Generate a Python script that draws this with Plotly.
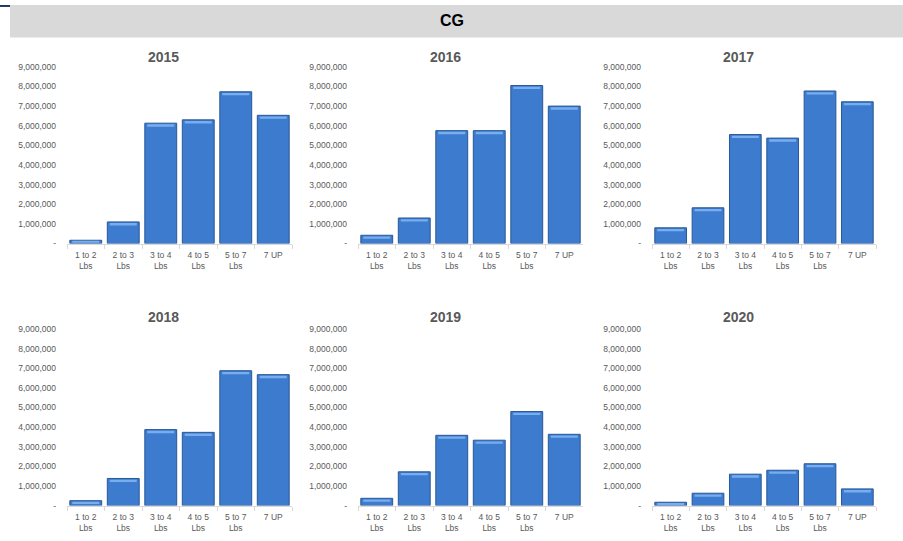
import plotly.graph_objects as go

categories = ["1 to 2<br>Lbs", "2 to 3<br>Lbs", "3 to 4<br>Lbs", "4 to 5<br>Lbs", "5 to 7<br>Lbs", "7 UP"]
years = ["2015", "2016", "2017", "2018", "2019", "2020"]
v2015 = [165000, 1100000, 6130000, 6300000, 7730000, 6530000]
v2016 = [420000, 1300000, 5750000, 5750000, 8050000, 7000000]
v2017 = [800000, 1820000, 5550000, 5370000, 7770000, 7220000]
v2018 = [250000, 1380000, 3870000, 3730000, 6870000, 6670000]
v2019 = [370000, 1720000, 3580000, 3330000, 4790000, 3630000]
v2020 = [170000, 630000, 1600000, 1800000, 2130000, 850000]
series = [v2015, v2016, v2017, v2018, v2019, v2020]
ytickvals = [0, 1000000, 2000000, 3000000, 4000000, 5000000, 6000000, 7000000, 8000000, 9000000]
yticktext = ["-", "1,000,000", "2,000,000", "3,000,000", "4,000,000", "5,000,000",
             "6,000,000", "7,000,000", "8,000,000", "9,000,000"]

W, H = 903, 541
xdoms = [(67, 292), (358, 583), (652, 876)]
ydoms = [(63, 243), (330, 510)]
title_y = [53, 318]
title_x = [163, 445, 738]

fig = go.Figure()
font = "Liberation Sans, Arial, sans-serif"
grey = "#595959"

for i, (yr, vals) in enumerate(zip(years, series)):
    r, c = divmod(i, 3)
    n = i + 1
    xa = "x" if n == 1 else f"x{n}"
    ya = "y" if n == 1 else f"y{n}"
    fig.add_trace(go.Bar(
        x=categories, y=vals, xaxis=xa, yaxis=ya, width=0.85,
        marker=dict(color="#3c7bcd", line=dict(color="#2a5896", width=1)),
        showlegend=False, hoverinfo="x+y",
    ))
    # bevel highlight near the top of each bar (derived from the same values)
    hl_h = [min(120000, v * 0.5) for v in vals]
    hl_base = [v - h - min(60000, v * 0.2) for v, h in zip(vals, hl_h)]
    fig.add_trace(go.Bar(
        x=categories, y=hl_h, base=hl_base, xaxis=xa, yaxis=ya, width=0.72,
        marker=dict(color="#78aef0", line=dict(width=0)),
        showlegend=False, hoverinfo="skip",
    ))
    x0, x1 = xdoms[c]
    y0, y1 = ydoms[r]
    xkey = "xaxis" if n == 1 else f"xaxis{n}"
    ykey = "yaxis" if n == 1 else f"yaxis{n}"
    fig.update_layout(**{
        xkey: dict(domain=[x0 / W, x1 / W], anchor=ya, showline=True, linecolor="#d9d9d9",
                   linewidth=1, ticks="outside", tickson="boundaries", ticklen=4,
                   tickcolor="#d9d9d9", ticklabelstandoff=3,
                   tickfont=dict(size=8.5, color=grey, family=font),
                   showgrid=False, zeroline=False, fixedrange=True),
        ykey: dict(domain=[1 - y1 / H, 1 - y0 / H], anchor=xa, range=[0, 9000000],
                   tickvals=ytickvals, ticktext=yticktext, showgrid=False, zeroline=False,
                   showline=False, ticks="", ticklabelstandoff=10,
                   tickfont=dict(size=8.5, color=grey, family=font), fixedrange=True),
    })
    fig.add_annotation(text=f"<b>{yr}</b>", x=title_x[c] / W, y=1 - title_y[r] / H,
                       xref="paper", yref="paper", xanchor="center", yanchor="middle",
                       showarrow=False, font=dict(size=14, color=grey, family=font))

# header band
fig.add_shape(type="rect", xref="paper", yref="paper", x0=10 / W, x1=1, y0=1 - 33 / H, y1=1,
              fillcolor="#d9d9d9", line_width=0, layer="below")
fig.add_shape(type="rect", xref="paper", yref="paper", x0=0, x1=10 / W, y0=1 - 2 / H, y1=1,
              fillcolor="#1f3864", line_width=0, layer="below")
fig.add_annotation(text="<b>CG</b>", x=452 / W, y=1 - 16 / H, xref="paper", yref="paper",
                   xanchor="center", yanchor="middle",
                   showarrow=False, font=dict(size=16, color="#000000", family=font))

fig.update_layout(width=W, height=H, margin=dict(l=0, r=0, t=0, b=0),
                  paper_bgcolor="white", plot_bgcolor="white", barmode="overlay")

fig.write_html(
    "out.html",
    config={"displayModeBar": False},
    post_script=(
        "document.body.style.margin='0';"
        "document.body.style.overflow='hidden';"
        "document.documentElement.style.overflow='hidden';"
        "var gd=document.getElementById('{plot_id}');"
        "gd.style.position='fixed';gd.style.top='0px';gd.style.left='0px';"
    ),
)
